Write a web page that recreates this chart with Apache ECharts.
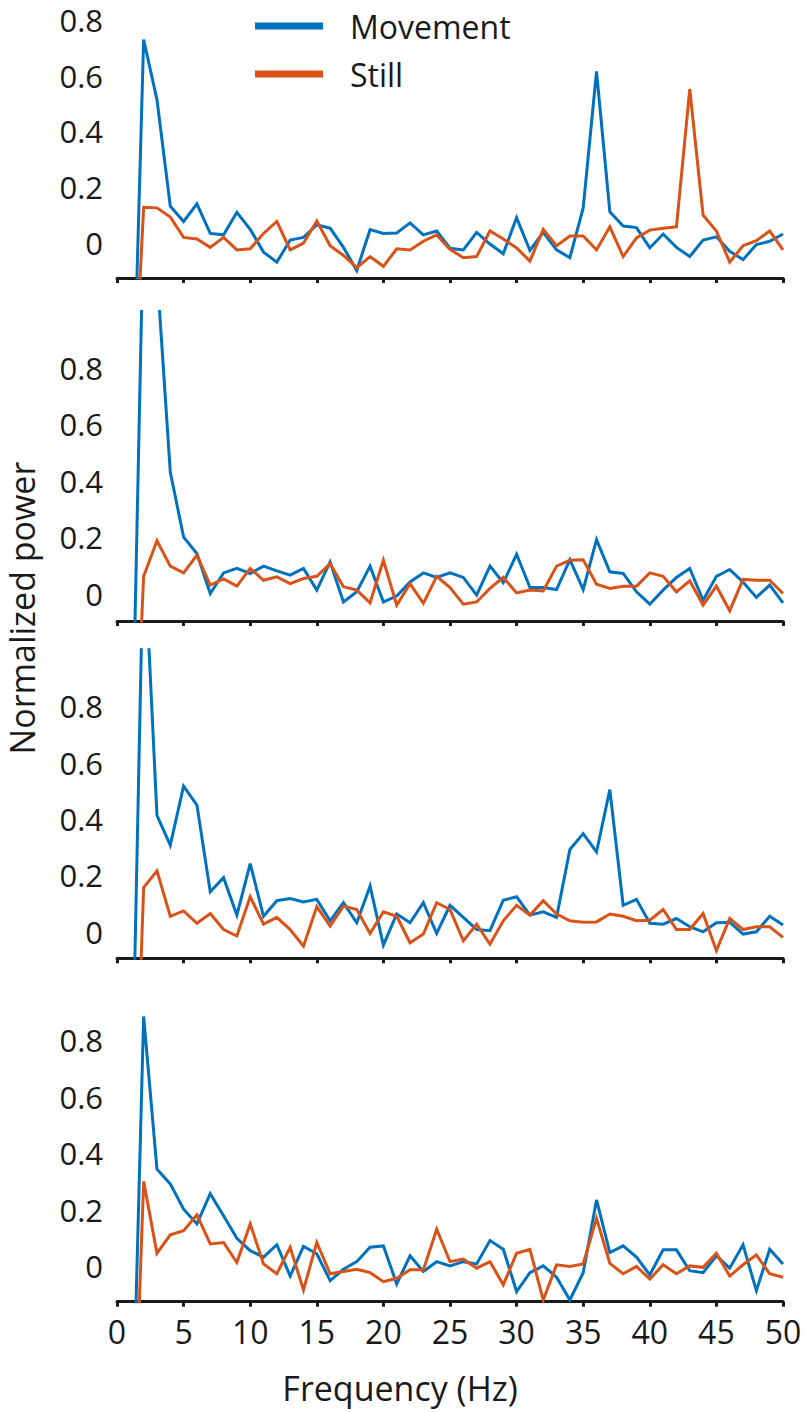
<!DOCTYPE html>
<html>
<head>
<meta charset="utf-8">
<script src="https://cdn.jsdelivr.net/npm/echarts@6/dist/echarts.min.js"></script>
<style>
  html, body { margin: 0; padding: 0; background: #fff; }
  #chart { width: 810px; height: 1412px; }
</style>
</head>
<body>
<div id="chart"></div>
<script>
// frequency bins (Hz)
var freq = [1,2,3,4,5,6,7,8,9,10,11,12,13,14,15,16,17,18,19,20,21,22,23,24,25,
            26,27,28,29,30,31,32,33,34,35,36,37,38,39,40,41,42,43,44,45,46,47,48,49,50];

// panel 1
var move1 = [-0.97,0.73,0.514,0.131,0.076,0.139,0.033,0.028,0.109,0.048,-0.034,-0.07,0.009,0.019,0.064,0.052,-0.017,-0.10,0.047,0.033,0.035,0.071,0.028,0.042,-0.02,
             -0.026,0.037,-0.005,-0.04,0.09,-0.028,0.037,-0.026,-0.054,0.125,0.615,0.111,0.06,0.054,-0.019,0.031,-0.017,-0.05,0.009,0.021,-0.031,-0.061,-0.007,0.005,0.031];
var still1 = [-0.82,0.127,0.125,0.092,0.019,0.013,-0.017,0.019,-0.026,-0.022,0.033,0.076,-0.026,-0.002,0.078,-0.011,-0.046,-0.09,-0.05,-0.085,-0.022,-0.026,0.005,0.028,-0.024,
              -0.054,-0.05,0.042,0.013,-0.019,-0.066,0.048,-0.011,0.024,0.024,-0.026,0.057,-0.05,0.017,0.045,0.052,0.057,0.552,0.099,0.042,-0.07,-0.011,0.007,0.042,-0.026];
// panel 2
var move2 = [-0.88,1.35,1.14,0.431,0.20,0.142,0.0,0.073,0.089,0.071,0.097,0.08,0.065,0.089,0.012,0.112,-0.03,0.006,0.097,-0.03,-0.009,0.041,0.073,0.057,0.073,
             0.057,-0.006,0.097,0.038,0.139,0.021,0.021,0.014,0.12,0.014,0.191,0.077,0.071,0.006,-0.038,0.012,0.057,0.089,-0.024,0.061,0.085,0.041,-0.014,0.03,-0.033];
var still2 = [-1.0,0.061,0.187,0.097,0.073,0.136,0.03,0.052,0.026,0.089,0.047,0.059,0.035,0.053,0.061,0.106,0.024,0.012,-0.033,0.118,-0.041,0.035,-0.035,0.061,0.021,
              -0.038,-0.03,0.018,0.057,0.002,0.012,0.009,0.097,0.118,0.12,0.033,0.018,0.026,0.026,0.073,0.061,0.006,0.045,-0.041,0.026,-0.061,0.05,0.047,0.047,0.0];
// panel 3
var move3 = [-0.87,1.4,0.413,0.307,0.516,0.449,0.142,0.192,0.059,0.242,0.055,0.11,0.118,0.106,0.115,0.039,0.103,0.032,0.162,-0.047,0.063,0.032,0.103,-0.006,0.094,
             0.051,0.008,0.004,0.112,0.124,0.059,0.071,0.051,0.292,0.348,0.283,0.504,0.094,0.115,0.03,0.027,0.047,0.018,0.0,0.032,0.034,-0.008,0.0,0.055,0.024];
var still3 = [-1.2,0.157,0.216,0.055,0.074,0.03,0.065,0.008,-0.015,0.124,0.027,0.051,0.008,-0.051,0.089,0.02,0.091,0.079,-0.006,0.071,0.055,-0.039,-0.008,0.103,0.079,
              -0.032,0.027,-0.044,0.039,0.094,0.059,0.11,0.063,0.039,0.034,0.035,0.063,0.055,0.039,0.041,0.079,0.008,0.008,0.065,-0.067,0.047,0.008,0.018,0.018,-0.02];
// panel 4
var move4 = [-0.89,0.885,0.343,0.291,0.201,0.149,0.256,0.178,0.098,0.054,0.031,0.075,-0.036,0.069,0.043,-0.052,-0.012,0.015,0.066,0.071,-0.064,0.036,-0.02,0.015,0.0,
             0.015,0.007,0.09,0.059,-0.091,-0.024,0.0,-0.04,-0.121,-0.024,0.234,0.047,0.071,0.031,-0.032,0.057,0.057,-0.017,-0.024,0.036,-0.008,0.075,-0.088,0.059,0.007];
var still4 = [-1.03,0.3,0.045,0.11,0.125,0.181,0.078,0.083,0.012,0.149,0.007,-0.028,0.066,-0.085,0.083,-0.028,-0.02,-0.012,-0.024,-0.056,-0.044,-0.014,-0.014,0.13,0.015,
              0.024,-0.008,0.015,-0.067,0.045,0.059,-0.121,0.004,-0.002,0.007,0.169,0.009,-0.028,-0.002,-0.047,0.004,-0.028,0.0,-0.005,0.045,-0.036,0.004,0.039,-0.028,-0.04];

var xTicks = [0, 5, 10, 15, 20, 25, 30, 35, 40, 45, 50];
var yTicks = [0, 0.2, 0.4, 0.6, 0.8];
var yMin = [-0.127, -0.0975, -0.094, -0.127];
var yMax = [0.8, 1.0, 1.0, 1.0];

var movement = [move1, move2, move3, move4];
var still = [still1, still2, still3, still4];

var BLUE = '#0072BD';
var ORANGE = '#D95319';
var INK = '#1a1a1a';
var FONT = '"Open Sans", "Noto Sans", sans-serif';

var gridTops = [20, 311.5, 649.7, 984];
var gridHeights = [258, 309.5, 308.6, 317.7];

function pairs(ys) {
  var out = [];
  for (var i = 0; i < freq.length; i++) out.push([freq[i], ys[i]]);
  return out;
}

var grids = [], xAxes = [], yAxes = [], series = [];
for (var p = 0; p < 4; p++) {
  grids.push({ left: 117, width: 666, top: gridTops[p], height: gridHeights[p] });
  xAxes.push({
    gridIndex: p, type: 'value', min: xTicks[0], max: xTicks[xTicks.length - 1], interval: 5,
    axisLine: { onZero: false, lineStyle: { color: INK, width: 3 } },
    axisTick: { length: 5, lineStyle: { color: INK, width: 3 } },
    axisLabel: { show: p === 3, color: INK, fontSize: 32, fontFamily: FONT, margin: 14 },
    splitLine: { show: false }
  });
  yAxes.push({
    gridIndex: p, type: 'value', min: yMin[p], max: yMax[p],
    axisLine: { show: false },
    axisTick: { show: false },
    splitLine: { show: false },
    axisLabel: { customValues: yTicks, color: INK, fontSize: 31, lineHeight: 24, fontFamily: FONT, margin: 14 }
  });
  series.push({
    name: 'Movement', type: 'line', xAxisIndex: p, yAxisIndex: p,
    data: pairs(movement[p]), showSymbol: false, symbol: 'none', clip: true,
    lineStyle: { color: BLUE, width: 3, join: 'miter', miterLimit: 4 },
    itemStyle: { color: BLUE }, animation: false
  });
  series.push({
    name: 'Still', type: 'line', xAxisIndex: p, yAxisIndex: p,
    data: pairs(still[p]), showSymbol: false, symbol: 'none', clip: true,
    lineStyle: { color: ORANGE, width: 3, join: 'miter', miterLimit: 4 },
    itemStyle: { color: ORANGE }, animation: false
  });
}

var chart = echarts.init(document.getElementById('chart'), null, { renderer: 'svg' });
chart.setOption({
  backgroundColor: '#fff',
  animation: false,
  grid: grids,
  xAxis: xAxes,
  yAxis: yAxes,
  series: series,
  legend: {
    data: ['Movement', 'Still'],
    orient: 'vertical', left: 250, top: 5,
    icon: 'rect', itemWidth: 68, itemHeight: 7, itemGap: 16,
    textStyle: { color: INK, fontSize: 32, fontFamily: FONT, lineHeight: 32, padding: [0, 0, 0, 22] }
  },
  graphic: [
    {
      type: 'text', x: 400, y: 1388,
      style: { text: 'Frequency (Hz)', fill: INK, fontSize: 34, fontFamily: FONT, textAlign: 'center', textVerticalAlign: 'middle' }
    },
    {
      type: 'text', x: 22, y: 608, rotation: Math.PI / 2,
      style: { text: 'Normalized power', fill: INK, fontSize: 34, fontFamily: FONT, textAlign: 'center', textVerticalAlign: 'middle' }
    }
  ]
});
</script>
</body>
</html>
